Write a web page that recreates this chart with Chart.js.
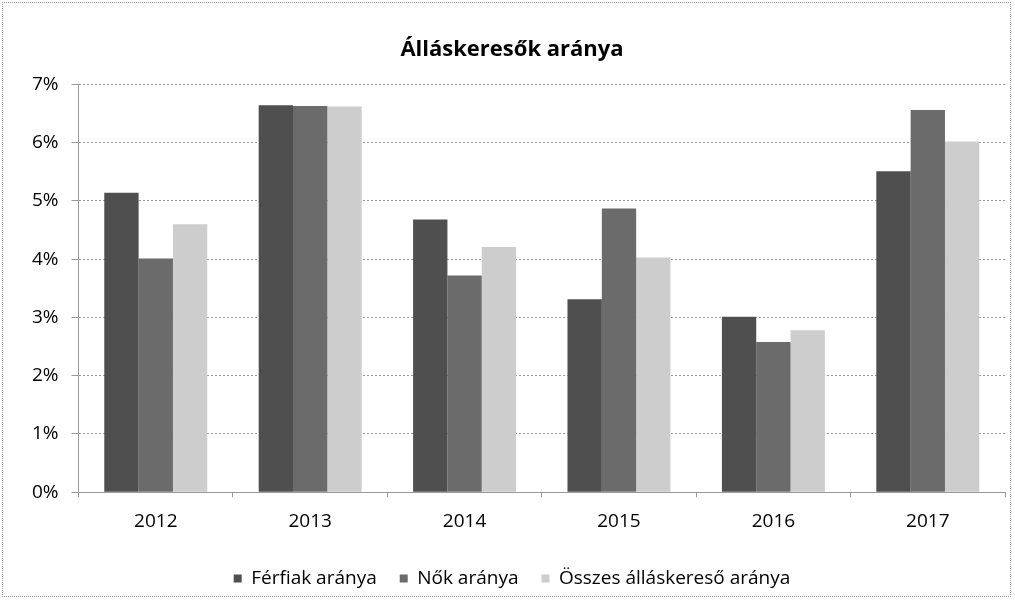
<!DOCTYPE html>
<html>
<head>
<meta charset="utf-8">
<script src="https://cdn.jsdelivr.net/npm/chart.js@4/dist/chart.umd.min.js"></script>
<style>
html,body{margin:0;padding:0;background:#fff;}
#wrap{position:absolute;left:2px;top:2px;width:1009px;height:595px;border:1px dotted #9a9a9a;box-sizing:border-box;}
canvas{position:absolute;left:0;top:0;}
</style>
</head>
<body>
<div id="wrap"></div>
<canvas id="c" width="1015" height="601"></canvas>
<script>
const categories = ['2012','2013','2014','2015','2016','2017'];
const ferfiak = [5.14, 6.64, 4.68, 3.31, 3.01, 5.51];
const nok = [4.01, 6.63, 3.72, 4.87, 2.58, 6.56];
const osszes = [4.60, 6.62, 4.21, 4.03, 2.78, 6.02];
const yTicks = [0,1,2,3,4,5,6,7];
const seriesNames = ['Férfiak aránya','Nők aránya','Összes álláskereső aránya'];

const font = "'Open Sans', 'Liberation Sans', sans-serif";
new Chart(document.getElementById('c'), {
  type: 'bar',
  data: {
    labels: categories,
    datasets: [
      {label: seriesNames[0], data: ferfiak, backgroundColor: '#4f4f4f'},
      {label: seriesNames[1], data: nok, backgroundColor: '#6b6b6b'},
      {label: seriesNames[2], data: osszes, backgroundColor: '#cdcdcd'}
    ]
  },
  options: {
    responsive: false,
    animation: false,
    devicePixelRatio: 1,
    layout: {padding: {left: 19, right: 10, top: 20, bottom: 3}},
    datasets: {bar: {categoryPercentage: 0.667, barPercentage: 1.0}},
    plugins: {
      title: {display: true, text: 'Álláskeresők aránya', color: '#000',
        font: {family: font, size: 22, weight: 'bold'}, padding: {top: 17, bottom: 21}},
      legend: {position: 'bottom', labels: {color: '#000', boxWidth: 8, boxHeight: 8,
        padding: 23, font: {family: font, size: 19}}},
      tooltip: {enabled: false}
    },
    scales: {
      x: {
        grid: {display: true, drawOnChartArea: false, offset: true, color: '#999', tickLength: 5},
        border: {display: true, color: '#999', dash: [2,2]},
        ticks: {color: '#000', font: {family: font, size: 19}, padding: 13}
      },
      y: {
        min: 0, max: 7,
        afterBuildTicks: (axis) => { axis.ticks = yTicks.map(v => ({value: v})); },
        grid: {color: '#999', tickLength: 7},
        border: {display: true, color: '#999', dash: [2,2]},
        ticks: {color: '#000', font: {family: font, size: 19}, padding: 13,
          callback: (v) => v + '%'}
      }
    }
  }
});
</script>
</body>
</html>
